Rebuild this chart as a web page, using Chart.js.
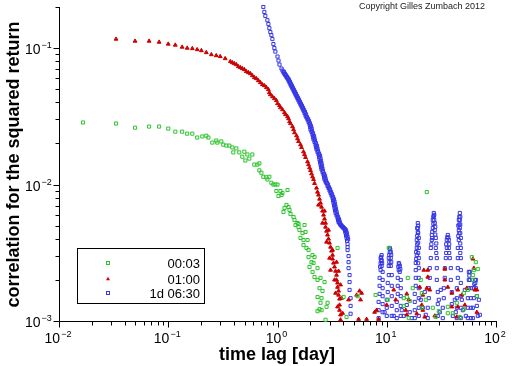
<!DOCTYPE html>
<html>
<head>
<meta charset="utf-8">
<script src="https://cdn.jsdelivr.net/npm/chart.js"></script>
<style>
  html, body { margin: 0; padding: 0; background: #fff; }
  #wrap { width: 512px; height: 366px; }
</style>
</head>
<body>
<div id="wrap"><canvas id="chart" width="512" height="366"></canvas></div>
<script>
// DATA (lag in days, correlation of squared returns)
const seriesNames = ["00:03", "01:00", "1d 06:30"];
const xTitle = "time lag [day]";
const yTitle = "correlation for the squared return";
const credit = "Copyright Gilles Zumbach 2012";
const xDecades = [-2, -1, 0, 1, 2];
const yDecades = [-3, -2, -1];

const greenLag = [
  0.0166, 0.0333, 0.0497, 0.0668, 0.0825, 0.100, 0.116, 0.134, 0.149, 0.166,
  0.184, 0.205, 0.223, 0.233, 0.253, 0.275, 0.281, 0.306, 0.319, 0.340,
  0.362, 0.386, 0.394, 0.420, 0.447, 0.476, 0.497, 0.508, 0.530, 0.552,
  0.588, 0.614, 0.654, 0.682, 0.682, 0.712, 0.742, 0.791, 0.808, 0.842,
  0.879, 0.917, 0.956, 0.977, 1.00, 1.021, 1.065, 1.088, 1.111, 1.135,
  1.159, 1.209, 1.235, 1.261, 1.288, 1.315, 1.402, 1.431, 1.462, 1.525,
  1.557, 1.557, 1.590, 1.624, 1.694, 1.730, 1.730, 1.767, 1.805, 1.843,
  1.883, 1.923, 1.923, 1.964, 2.048, 2.092, 2.092, 2.137, 2.182, 2.182,
  2.325, 2.325, 2.325, 2.325, 2.425, 2.425, 2.477, 2.477, 2.530, 2.530,
  2.584, 2.695, 2.752, 2.811, 2.871, 3.545, 4.024, 4.287, 5.407, 7.907,
  10.21, 10.43, 14.31, 14.31, 15.25, 15.57, 15.90, 16.24, 17.30, 20.48,
  20.92, 20.92, 22.76, 23.25, 26.39, 28.11, 29.95, 36.21, 36.21, 40.24,
  43.78, 46.65, 50.76, 50.76, 55.23, 60.09, 61.38, 61.38, 62.68, 65.39,
  66.79, 68.21
];
const greenCorr = [
  0.0285, 0.0280, 0.0261, 0.0266, 0.0266, 0.0257, 0.0244, 0.0244, 0.0236, 0.0236,
  0.0221, 0.0225, 0.0228, 0.0221, 0.0203, 0.0210, 0.0203, 0.0207, 0.0196, 0.0193,
  0.0193, 0.0187, 0.0172, 0.0184, 0.0172, 0.0160, 0.0174, 0.0150, 0.0166, 0.0155,
  0.0166, 0.0140, 0.0140, 0.0143, 0.0127, 0.0122, 0.0114, 0.0113, 0.0109, 0.0114,
  0.0103, 0.0100, 0.0100, 0.00896, 0.0100, 0.00824, 0.00896, 0.00838, 0.00867, 0.00629,
  0.00673, 0.00708, 0.00912, 0.00684, 0.00651, 0.00608, 0.00578, 0.00550, 0.00505, 0.00522,
  0.00488, 0.00514, 0.00464, 0.00406, 0.00441, 0.00392, 0.00360, 0.00505, 0.00449, 0.00343,
  0.00392, 0.00331, 0.00294, 0.00249, 0.00270, 0.00304, 0.00229, 0.00266, 0.00294, 0.00210,
  0.00244, 0.00200, 0.00150, 0.00118, 0.00174, 0.00122, 0.00207, 0.00136, 0.00147, 0.00120,
  0.00166, 0.00193, 0.00102, 0.00127, 0.00136, 0.00343, 0.00150, 0.00107, 0.00152, 0.00155,
  0.00143, 0.00343, 0.00147, 0.00129, 0.00150, 0.00207, 0.00105, 0.00140, 0.00174, 0.00200,
  0.00160, 0.00125, 0.00143, 0.00881, 0.00125, 0.00107, 0.00118, 0.00127, 0.00114, 0.00114,
  0.00136, 0.00107, 0.00160, 0.00122, 0.00169, 0.00294, 0.00217, 0.00200, 0.00236, 0.00270,
  0.00152, 0.00240
];

const redLag = [
  0.0333, 0.0497, 0.0668, 0.0825, 0.100, 0.116, 0.134, 0.149, 0.166, 0.184,
  0.201, 0.223, 0.248, 0.275, 0.299, 0.332,
  0.370, 0.386, 0.402, 0.420, 0.438, 0.457, 0.476, 0.497, 0.518, 0.541,
  0.564, 0.588, 0.614, 0.640, 0.668, 0.697, 0.727, 0.758, 0.791, 0.825,
  0.842, 0.860, 0.898, 0.936, 0.977, 1.000, 1.043, 1.065, 1.111, 1.159,
  1.184, 1.235, 1.261, 1.288, 1.315, 1.372, 1.402, 1.431, 1.493, 1.525,
  1.557, 1.624, 1.659, 1.730, 1.767, 1.805, 1.883, 1.923, 1.964, 2.005,
  2.048, 2.092, 2.137, 2.182, 2.276, 2.325, 2.374, 2.425, 2.477, 2.530,
  2.584, 2.639, 2.695, 2.752, 2.752, 2.811, 2.871, 2.932, 2.995, 3.058,
  3.124, 3.190, 3.190, 3.258, 3.328, 3.399, 3.471, 3.471, 3.545, 3.545,
  3.621, 3.621, 3.698, 3.698, 3.698, 3.777, 3.777,
  2.374, 2.695, 2.584, 2.932, 2.811, 3.190, 2.995, 3.471, 3.058, 3.621,
  3.328, 3.777, 3.399, 3.858, 3.545,
  3.940, 4.472, 5.295, 5.640, 5.884, 5.761, 5.523, 6.539, 7.743, 8.076,
  8.424, 9.980, 11.59, 12.09, 14.93, 15.25, 15.90, 15.25, 18.83, 20.05,
  20.92, 21.37, 21.37, 21.82, 22.29, 23.25, 23.74, 23.74, 24.77, 27.52,
  33.99, 33.99, 36.21, 39.40, 39.40, 43.78, 44.72, 44.72, 48.66, 51.84,
  54.07, 61.38, 62.68, 64.02, 66.79, 66.79
];
const redCorr = [
  0.1164, 0.1125, 0.1125, 0.1106, 0.1070, 0.1052, 0.1017, 0.1000, 0.0992, 0.0975,
  0.0959, 0.0927, 0.0896, 0.0881, 0.0867, 0.0838,
  0.0797, 0.0783, 0.0770, 0.0757, 0.0732, 0.0720, 0.0708, 0.0696, 0.0673, 0.0662,
  0.0651, 0.0629, 0.0608, 0.0598, 0.0578, 0.0559, 0.0540, 0.0531, 0.0514, 0.0497,
  0.0472, 0.0456, 0.0441, 0.0427, 0.0413, 0.0392, 0.0379, 0.0366, 0.0354, 0.0337,
  0.0326, 0.0315, 0.0304, 0.0289, 0.0280, 0.0266, 0.0253, 0.0240, 0.0228, 0.0217,
  0.0207, 0.0196, 0.0187, 0.0174, 0.0166, 0.0158, 0.0147, 0.0140, 0.0133, 0.0127,
  0.0120, 0.0114, 0.0109, 0.0102, 0.00943, 0.00881, 0.00838, 0.00783, 0.00732, 0.00684,
  0.00640, 0.00598, 0.00559, 0.00522, 0.00488, 0.00456, 0.00427, 0.00399, 0.00373, 0.00348,
  0.00326, 0.00304, 0.00285, 0.00266, 0.00249, 0.00232, 0.00217, 0.00200, 0.00190, 0.00177,
  0.00166, 0.00155, 0.00145, 0.00131, 0.00120, 0.00111, 0.00102,
  0.00708, 0.00640, 0.00522, 0.00464, 0.00379, 0.00331, 0.00289, 0.00270, 0.00236, 0.00232,
  0.00200, 0.00184, 0.00160, 0.00147, 0.00127,
  0.00114, 0.00143, 0.00155, 0.00166, 0.00160, 0.00143, 0.00103, 0.00103, 0.00116, 0.00120,
  0.00103, 0.00131, 0.00169, 0.00143, 0.00120, 0.00158, 0.00143, 0.00111, 0.00113, 0.00177,
  0.00131, 0.00155, 0.00120, 0.00236, 0.00107, 0.00174, 0.00236, 0.00210, 0.00169, 0.00109,
  0.00240, 0.00200, 0.00177, 0.00160, 0.00127, 0.00107, 0.00169, 0.00127, 0.00155, 0.00131,
  0.00174, 0.00285, 0.00244, 0.00169, 0.00116, 0.00169
];

const blueLag = [
  0.742, 0.758, 0.774, 0.808, 0.825, 0.842, 0.860, 0.879, 0.898, 0.917,
  0.936, 0.956, 1.000, 1.021, 1.043, 1.088,
  1.111, 1.135, 1.159, 1.184, 1.209, 1.235, 1.261, 1.288, 1.315, 1.343,
  1.372, 1.402, 1.431, 1.462, 1.493, 1.525, 1.557, 1.590, 1.624, 1.659,
  1.694, 1.730, 1.767, 1.805, 1.843, 1.883, 1.923, 1.964, 1.990, 2.005,
  2.048, 2.092, 2.110, 2.137, 2.182, 2.229, 2.250, 2.276, 2.325, 2.374,
  2.400, 2.425, 2.450, 2.477, 2.500, 2.530, 2.584, 2.639, 2.667, 2.695,
  2.752, 2.811, 2.871, 2.932, 2.995, 3.058, 3.124, 3.190, 3.224, 3.258,
  3.293, 3.328, 3.363, 3.399, 3.471, 3.545, 3.583, 3.621, 3.698, 3.777,
  3.858, 3.940, 4.024, 4.110, 4.154, 4.198, 4.242, 4.287, 4.332, 4.378,
  4.378, 4.378, 4.472, 4.472, 4.472, 4.567, 4.567, 4.567, 4.665, 4.665,
  4.665
];
const blueCorr = [
  0.200, 0.184, 0.172, 0.160, 0.150, 0.140, 0.131, 0.1245, 0.1164, 0.107,
  0.100, 0.0943, 0.0867, 0.0810, 0.0757, 0.0708,
  0.0684, 0.0662, 0.0646, 0.0629, 0.0613, 0.0598, 0.0578, 0.0559, 0.0540, 0.0522,
  0.0505, 0.0488, 0.0472, 0.0456, 0.0441, 0.0427, 0.0413, 0.0399, 0.0386, 0.0373,
  0.0360, 0.0348, 0.0334, 0.0320, 0.0310, 0.0299, 0.0287, 0.0275, 0.0264, 0.0253,
  0.0243, 0.0232, 0.0223, 0.0214, 0.0205, 0.0196, 0.0188, 0.0181, 0.0173, 0.0166,
  0.0159, 0.0152, 0.0146, 0.0140, 0.0134, 0.0129, 0.0123, 0.0118, 0.0113, 0.0109,
  0.0105, 0.0102, 0.00975, 0.00943, 0.00904, 0.00867, 0.00831, 0.00797, 0.00764, 0.00732,
  0.00702, 0.00673, 0.00646, 0.00619, 0.00593, 0.00569, 0.00550, 0.00531, 0.00518, 0.00505,
  0.00497, 0.00488, 0.00480, 0.00472, 0.00456, 0.00441, 0.00423, 0.00406, 0.00386, 0.00366,
  0.00348, 0.00331, 0.00299, 0.00270, 0.00244, 0.00217, 0.00193, 0.00169, 0.00147, 0.00129,
  0.00113
];

// lags in between, read along the right side of the dense blue band
const blueBandLag = [
  1.147, 1.171, 1.196, 1.222, 1.248, 1.275, 1.301, 1.329, 1.357, 1.386,
  1.416, 1.447, 1.477, 1.509, 1.541, 1.574, 1.607, 1.641, 1.676, 1.712,
  1.748, 1.785, 1.824, 1.863, 1.902, 1.943, 1.985, 2.027, 2.054, 2.069,
  2.114, 2.159, 2.178, 2.205, 2.252, 2.300, 2.322, 2.349, 2.399, 2.450,
  2.477, 2.503, 2.528, 2.556, 2.580, 2.611, 2.667, 2.723, 2.752, 2.781,
  2.840, 2.901, 2.963, 3.026, 3.091, 3.156, 3.224, 3.292, 3.327, 3.362,
  3.398, 3.434, 3.471, 3.508, 3.582, 3.658, 3.698, 3.737, 3.816, 3.898,
  3.981, 4.066, 4.153, 4.242, 4.287, 4.332, 4.378, 4.424
];
const blueBandCorr = [
  0.0670, 0.0648, 0.0632, 0.0616, 0.0600, 0.0585, 0.0566, 0.0547, 0.0529, 0.0511,
  0.0494, 0.0478, 0.0462, 0.0446, 0.0432, 0.0418, 0.0404, 0.0391, 0.0378, 0.0365,
  0.0352, 0.0341, 0.0327, 0.0313, 0.0303, 0.0293, 0.0281, 0.0269, 0.0258, 0.0248,
  0.0238, 0.0227, 0.0218, 0.0210, 0.0201, 0.0192, 0.0184, 0.0177, 0.0169, 0.0163,
  0.0156, 0.0149, 0.0143, 0.0137, 0.0131, 0.0126, 0.0120, 0.0116, 0.0111, 0.0107,
  0.0103, 0.00999, 0.00955, 0.00923, 0.00885, 0.00849, 0.00814, 0.00780, 0.00748, 0.00717,
  0.00687, 0.00659, 0.00632, 0.00606, 0.00581, 0.00557, 0.00538, 0.00520, 0.00507, 0.00494,
  0.00487, 0.00478, 0.00470, 0.00462, 0.00446, 0.00432, 0.00414, 0.00397
];

// blue long-lag bursts (one row per burst, then loose points near the floor)
const blueTailLag = [
  8.424, 8.424, 8.424, 8.604, 8.604, 8.604, 8.788, 8.788, 8.788, 8.976, 8.976, 8.976, 9.167, 9.167, 9.167, 9.167, 9.167, 9.167,
  10.00, 10.00, 10.00, 10.21, 10.21, 10.43, 10.43, 10.43, 10.65, 10.65, 10.88, 10.88, 10.88, 11.11, 11.11, 11.11, 11.11, 11.11,
  12.35, 12.35, 12.35, 12.61, 12.61, 12.61, 12.88, 12.88, 13.15, 13.15, 13.43, 13.43, 13.43, 13.43, 13.43,
  18.05, 18.05, 18.05, 18.05, 18.43, 18.43, 18.43, 18.43, 18.83, 18.83, 18.83, 19.23, 19.23, 19.23, 19.64, 19.64, 19.64, 19.64, 19.64, 19.64, 19.64, 19.64, 19.64,
  23.74, 23.74, 24.25, 24.25, 24.77, 24.77, 25.30, 25.30, 25.84, 25.84, 26.39, 26.39, 26.95, 26.95, 27.52, 27.52, 28.11, 28.11, 28.71, 28.71, 28.71, 29.32, 29.32, 29.32,
  32.58, 32.58, 33.28, 33.28, 33.99, 33.99, 34.71, 35.45, 35.45, 36.21, 36.98, 36.98, 37.77, 38.58, 38.58, 39.40, 39.40, 40.24,
  43.78, 43.78, 43.78, 43.78, 44.72, 44.72, 44.72, 44.72, 45.67, 45.67, 45.67, 46.65, 46.65, 46.65, 47.64, 47.64, 47.64, 47.64, 47.64, 47.64, 47.64, 47.64,
  55.23, 55.23, 55.23, 56.40, 56.40, 56.40, 57.61, 57.61, 58.84, 58.84, 58.84, 58.84,
  61.38, 61.38, 62.68, 62.68, 64.02, 65.39, 65.39, 66.79, 66.79, 68.21,
  9.563, 11.59, 13.72, 14.31, 15.25, 16.24, 16.94, 20.48, 21.37, 22.29, 22.76, 29.95, 30.59, 31.24, 41.98, 42.86, 48.66, 49.69, 51.84, 52.94, 69.67, 71.15
];
const blueTailCorr = [
  0.00105, 0.00120, 0.00138, 0.00158, 0.00181, 0.00207, 0.00236, 0.00266, 0.00289, 0.00304, 0.00280, 0.00253, 0.00229, 0.00200, 0.00174, 0.00152, 0.00133, 0.00116,
  0.00109, 0.00125, 0.00143, 0.00163, 0.00190, 0.00217, 0.00253, 0.00289, 0.00320, 0.00343, 0.00320, 0.00289, 0.00253, 0.00217, 0.00181, 0.00152, 0.00129, 0.00109,
  0.00105, 0.00120, 0.00138, 0.00158, 0.00181, 0.00207, 0.00236, 0.00266, 0.00253, 0.00229, 0.00200, 0.00174, 0.00152, 0.00129, 0.00109,
  0.00105, 0.00120, 0.00138, 0.00158, 0.00181, 0.00207, 0.00236, 0.00266, 0.00304, 0.00343, 0.00392, 0.00449, 0.00522, 0.00480, 0.00406, 0.00343, 0.00289, 0.00244, 0.00207, 0.00174, 0.00147, 0.00125, 0.00109,
  0.00105, 0.00125, 0.00147, 0.00174, 0.00207, 0.00244, 0.00289, 0.00343, 0.00392, 0.00427, 0.00480, 0.00550, 0.00619, 0.00588, 0.00522, 0.00464, 0.00406, 0.00343, 0.00289, 0.00244, 0.00200, 0.00163, 0.00133, 0.00109,
  0.00105, 0.00125, 0.00147, 0.00174, 0.00207, 0.00244, 0.00289, 0.00343, 0.00392, 0.00427, 0.00392, 0.00343, 0.00289, 0.00244, 0.00200, 0.00163, 0.00133, 0.00109,
  0.00105, 0.00125, 0.00147, 0.00174, 0.00207, 0.00244, 0.00289, 0.00343, 0.00392, 0.00464, 0.00550, 0.00619, 0.00550, 0.00480, 0.00406, 0.00343, 0.00289, 0.00236, 0.00190, 0.00152, 0.00125, 0.00105,
  0.00105, 0.00125, 0.00147, 0.00174, 0.00200, 0.00229, 0.00229, 0.00200, 0.00174, 0.00147, 0.00125, 0.00105,
  0.00105, 0.00125, 0.00147, 0.00174, 0.00200, 0.00200, 0.00174, 0.00152, 0.00129, 0.00109,
  0.00116, 0.00109, 0.00120, 0.00109, 0.00131, 0.00116, 0.00105, 0.00143, 0.00125, 0.00163, 0.00111, 0.00143, 0.00116, 0.00169, 0.00143, 0.00116, 0.00143, 0.00120, 0.00169, 0.00109, 0.00143, 0.00111
];

// extra points filling the upper part of each burst
const blueBurstLag = [
  8.70, 8.88, 9.07, 8.90,
  10.55, 10.76, 10.98, 10.55, 10.98,
  12.75, 13.00, 13.30,
  18.6, 18.6, 19.0, 19.0, 19.4, 19.4, 19.4, 19.4, 19.4, 19.0,
  25.6, 26.1, 26.7, 26.7, 27.2, 27.2, 27.8, 27.8, 28.4, 28.4, 26.1,
  35.0, 35.8, 36.6, 37.3, 37.3, 35.0,
  45.2, 45.2, 46.1, 46.1, 47.1, 47.1, 47.1, 47.1, 46.1, 47.1,
  57.0, 63.3, 64.7
];
const blueBurstCorr = [
  0.00250, 0.00295, 0.00265, 0.00275,
  0.00305, 0.00335, 0.00305, 0.00270, 0.00270,
  0.00250, 0.00260, 0.00240,
  0.00285, 0.00320, 0.00365, 0.00420, 0.00500, 0.00440, 0.00375, 0.00315, 0.00265, 0.00480,
  0.00365, 0.00450, 0.00515, 0.00580, 0.00600, 0.00550, 0.00490, 0.00430, 0.00370, 0.00315, 0.00405,
  0.00365, 0.00410, 0.00410, 0.00365, 0.00315, 0.00315,
  0.00420, 0.00500, 0.00580, 0.00510, 0.00580, 0.00510, 0.00440, 0.00370, 0.00440, 0.00315,
  0.00215, 0.00187, 0.00190
];

// STYLE
const FONT = '"Liberation Sans", Arial, Helvetica, sans-serif';
const GREEN = "#2ec42e";
const RED = "#cc0000";
const BLUE = "#3636e6";

// HELPERS
function toPoints(lags, corrs) {
  return lags.map((v, i) => ({ x: v, y: corrs[i] }));
}

function powLabel(ctx, exp, x, y, align) {
  const expText = (exp < 0 ? "\u2212" : "") + Math.abs(exp);
  ctx.font = "14px " + FONT;
  const wBase = ctx.measureText("10").width;
  ctx.font = "9px " + FONT;
  const wExp = ctx.measureText(expText).width;
  const left = align === "center" ? x - (wBase + 1 + wExp) / 2 : x;
  ctx.textAlign = "left";
  ctx.textBaseline = "alphabetic";
  ctx.font = "14px " + FONT;
  ctx.fillText("10", left, y);
  ctx.font = "9px " + FONT;
  ctx.fillText(expText, left + wBase + 1, y - 6);
}

function legendMark(ctx, style, color, x, y) {
  ctx.beginPath();
  if (style === "triangle") {
    ctx.moveTo(x, y - 2.2);
    ctx.lineTo(x + 2, y + 1.3);
    ctx.lineTo(x - 2, y + 1.3);
    ctx.closePath();
    ctx.fillStyle = color;
    ctx.fill();
  } else {
    ctx.strokeStyle = color;
    ctx.lineWidth = 1;
    ctx.strokeRect(Math.round(x) - 1.5, Math.round(y) - 1.5, 3, 3);
  }
}

// AXES, LABELS, LEGEND
const frame = {
  id: "frame",
  beforeDatasetsDraw(chart) {
    const { ctx, chartArea: a, scales } = chart;
    const xs = scales.x, ys = scales.y;
    const lx = Math.round(a.left) + 0.5;
    const by = Math.round(a.bottom) + 0.5;
    ctx.save();
    ctx.strokeStyle = "#000";
    ctx.lineWidth = 1;
    ctx.beginPath();
    ctx.moveTo(lx, Math.round(a.top));
    ctx.lineTo(lx, by);
    ctx.lineTo(Math.round(a.right) + 1, by);

    xDecades.forEach(e => {
      for (let m = 1; m <= 9; m++) {
        const v = m * Math.pow(10, e);
        if (v > xs.max * 1.0001) break;
        const px = Math.round(xs.getPixelForValue(v)) + 0.5;
        ctx.moveTo(px, by);
        ctx.lineTo(px, by + (m === 1 ? 6 : 4));
      }
    });
    yDecades.forEach(e => {
      for (let m = 1; m <= 9; m++) {
        const v = m * Math.pow(10, e);
        if (v > ys.max * 1.0001) break;
        const py = Math.round(ys.getPixelForValue(v)) + 0.5;
        ctx.moveTo(lx, py);
        ctx.lineTo(lx - (m === 1 ? 6 : 4), py);
      }
    });
    ctx.stroke();
    ctx.restore();
  },
  afterDraw(chart) {
    const { ctx, scales } = chart;
    const xs = scales.x, ys = scales.y;
    ctx.save();
    ctx.fillStyle = "#000";

    xDecades.forEach(e => {
      powLabel(ctx, e, xs.getPixelForValue(Math.pow(10, e)) - 1, 343, "center");
    });
    yDecades.forEach(e => {
      powLabel(ctx, e, 25, Math.round(ys.getPixelForValue(Math.pow(10, e))) + 6, "left");
    });

    ctx.font = "bold 18px " + FONT;
    ctx.textAlign = "center";
    ctx.textBaseline = "alphabetic";
    ctx.fillText(xTitle, 277, 360);
    ctx.save();
    ctx.translate(19, 164.5);
    ctx.rotate(-Math.PI / 2);
    ctx.fillText(yTitle, 0, 0);
    ctx.restore();

    ctx.font = "9px " + FONT;
    ctx.textAlign = "left";
    ctx.fillStyle = "#222";
    ctx.fillText(credit, 359, 9);

    // legend box
    ctx.strokeStyle = "#000";
    ctx.lineWidth = 1;
    ctx.strokeRect(77.5, 248.5, 127, 55);
    const rows = [263, 279, 293];
    const marks = [["rect", GREEN], ["triangle", RED], ["rect", BLUE]];
    ctx.font = "13px " + FONT;
    ctx.textAlign = "right";
    seriesNames.forEach((name, i) => {
      legendMark(ctx, marks[i][0], marks[i][1], 108, rows[i]);
      ctx.fillStyle = "#000";
      ctx.fillText(name, 200, rows[i] + 5);
    });
    ctx.restore();
  }
};

// CHART
const pointBase = { showLine: false, borderWidth: 1, clip: false };

new Chart(document.getElementById("chart"), {
  type: "scatter",
  data: {
    datasets: [
      Object.assign({
        label: seriesNames[0],
        data: toPoints(greenLag, greenCorr),
        pointStyle: "rect",
        pointRadius: 2.2,
        borderColor: GREEN,
        backgroundColor: "rgba(0,0,0,0)"
      }, pointBase),
      Object.assign({
        label: seriesNames[1],
        data: toPoints(redLag, redCorr),
        pointStyle: "triangle",
        pointRadius: 2.2,
        borderColor: RED,
        backgroundColor: RED
      }, pointBase),
      Object.assign({
        label: seriesNames[2],
        data: toPoints(
          blueLag.concat(blueBandLag, blueTailLag, blueBurstLag),
          blueCorr.concat(blueBandCorr, blueTailCorr, blueBurstCorr)
        ),
        pointStyle: "rect",
        pointRadius: 2.2,
        borderColor: BLUE,
        backgroundColor: "rgba(0,0,0,0)"
      }, pointBase)
    ]
  },
  options: {
    responsive: false,
    animation: false,
    devicePixelRatio: 1,
    events: [],
    layout: { padding: { left: 59, right: 16, top: 7, bottom: 45 } },
    plugins: { legend: { display: false }, tooltip: { enabled: false } },
    scales: {
      x: { type: "logarithmic", min: 0.01, max: 100, display: false },
      y: { type: "logarithmic", min: 0.001, max: 0.2, display: false }
    }
  },
  plugins: [frame]
});
</script>
</body>
</html>
